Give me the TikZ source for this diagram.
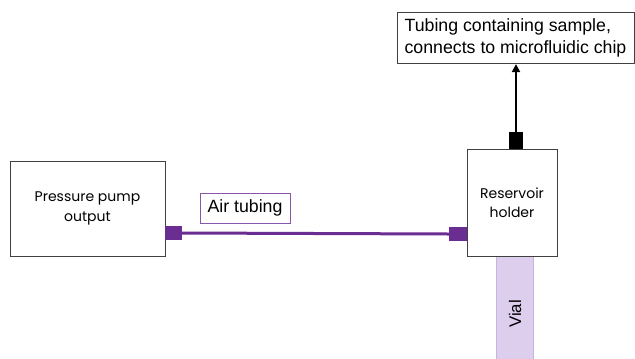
\documentclass[tikz,border=0pt]{standalone}
\usepackage{fontspec}
\setmainfont{Liberation Sans}
\newfontfamily\boxfont{Poppins}
\usetikzlibrary{arrows.meta}

\definecolor{tubepurple}{RGB}{106,45,145}
\definecolor{vialfill}{RGB}{221,206,237}
\definecolor{vialline}{RGB}{200,180,225}
\definecolor{boxline}{RGB}{64,64,64}

\tikzset{
  block/.style={draw=boxline, line width=0.75pt, fill=white, align=center,
    font=\boxfont\fontsize{10.5}{14.5}\selectfont},
  port/.style={inner sep=0pt, outer sep=0pt},
  tag/.style={draw=boxline, line width=0.75pt, align=left, inner sep=5pt,
    font=\fontsize{13.3}{16}\selectfont}
}

\begin{document}
\begin{tikzpicture}[x=0.75pt, y=-0.75pt]
		\useasboundingbox (0,0) rectangle (635,358);

		% vial sous le support
		\node[draw=vialline, fill=vialfill, line width=0.75pt, minimum width=27.75pt,
			minimum height=81pt, inner sep=0pt] (vial) at (514.5,310) {};
		\node[rotate=90, font=\fontsize{12.6}{14}\selectfont] (viallabel) at (515,314) {Vial};

		% pompe
		\node[block, minimum width=116.25pt, minimum height=71.25pt] (pump) at (87.5,208.5)
			{Pressure pump\\output};

		% support du reservoir
		\node[block, minimum width=67.5pt, minimum height=80.25pt] (holder) at (512,202.5)
			{Reservoir\\holder};

		% raccords
		\node[port, fill=tubepurple, minimum width=12.75pt, minimum height=10.5pt,
			anchor=west] (pumpport) at (165,233) {};
		\node[port, fill=tubepurple, minimum width=13.5pt, minimum height=10.5pt,
			anchor=east] (holderport) at (467,234) {};
		\node[port, fill=black, minimum width=10.5pt, minimum height=12.75pt,
			anchor=south] (outlet) at (516,149) {};

		% tuyau d'air
		\draw[tubepurple, line width=2.25pt] (pumpport.east) -- (holderport.west);
		\node[draw=tubepurple!80, line width=0.6pt, minimum width=67.5pt, minimum height=22.5pt,
			inner sep=0pt, font=\fontsize{13.3}{16}\selectfont] (airlabel) at (245,208) {Air tubing};

		% sortie vers la puce
		\node[tag, minimum width=177.75pt, minimum height=37.5pt] (chip) at (515.5,38)
			{Tubing containing sample,\\connects to microfluidic chip};
		\draw[line width=1.5pt, -{Triangle[length=6pt, width=6pt]}] (outlet.north) -- (outlet.north |- chip.south);

\end{tikzpicture}
\end{document}
